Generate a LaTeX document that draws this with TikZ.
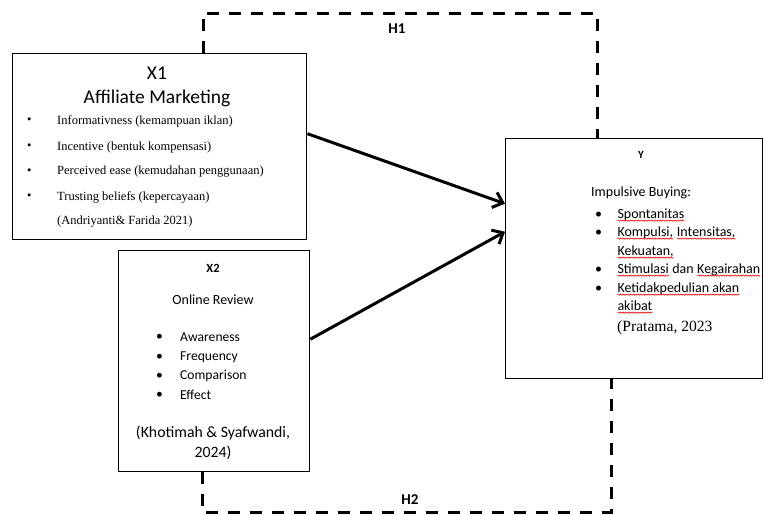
\documentclass[tikz,border=0pt]{standalone}
\usepackage{fontspec}
\setmainfont{Liberation Serif}
\newfontfamily\calib{Carlito}
\usepackage{xcolor}
\usetikzlibrary{positioning}
\usetikzlibrary{arrows.meta}
\usetikzlibrary{decorations.pathmorphing}

% red spell-check squiggle under a word
\newcommand{\spellerr}[1]{\tikz[baseline=(w.base)]{\node[inner sep=0pt, outer sep=0pt] (w) {#1};
    \draw[red, line width=0.6pt, decorate, decoration={snake, amplitude=0.6pt, segment length=2.5pt}] ([yshift=-2.5pt]w.base west) -- ([yshift=-2.5pt]w.base east);}}

\tikzset{
    varbox/.style={draw=black, line width=1.4pt, rectangle, anchor=north west, inner sep=0pt},
    itemtext/.style={anchor=west, inner sep=0pt},
    hypline/.style={line width=3pt, dash pattern=on 12pt off 10pt},
    effect/.style={line width=3pt, -{Straight Barb[length=9pt, width=16pt, line width=3pt]}}
}

\begin{document}
\begin{tikzpicture}[x=1pt, y=-1pt]
    \useasboundingbox (0,0) rectangle (765,514);

    % boxes
    \node[varbox, minimum width=294pt, minimum height=186pt] (x1) at (12,53) {};
    \node[varbox, minimum width=191pt, minimum height=221pt] (x2) at (118,250) {};
    \node[varbox, minimum width=257pt, minimum height=240pt] (yb) at (505,138) {};

    % X1
    \node[font=\calib\fontsize{19.5}{22}\selectfont] (x1t) at (157,73) {X1};
    \node[font=\calib\fontsize{19.5}{22}\selectfont] (x1n) at (157,98) {Affiliate Marketing};
    \foreach \yy/\txt in {121/{Informativness (kemampuan iklan)}, 147/{Incentive (bentuk kompensasi)}, 172/{Perceived ease (kemudahan penggunaan)}, 197/{Trusting beliefs (kepercayaan)}}{
        \node[itemtext, font=\fontsize{12.5}{15}\selectfont] at (27,\yy) {\textbullet};
        \node[itemtext, font=\fontsize{12.5}{15}\selectfont] at (57,\yy) {\txt};
    }
    \node[itemtext, font=\fontsize{12.5}{15}\selectfont] (x1c) at (57,222) {(Andriyanti\& Farida 2021)};

    % X2
    \node[font=\calib\bfseries\fontsize{12.5}{14}\selectfont] (x2t) at (213,268) {X2};
    \node[font=\calib\fontsize{14}{16}\selectfont] (x2n) at (213,300) {Online Review};
    \foreach \yy/\txt in {337/Awareness, 357/Frequency, 376/Comparison, 395/Effect}{
        \node[itemtext, font=\calib\fontsize{13.6}{16}\selectfont] at (156,\yy) {•};
        \node[itemtext, font=\calib\fontsize{13.6}{16}\selectfont] at (180,\yy) {\txt};
    }
    \node[align=center, font=\calib\fontsize{15.8}{20}\selectfont] (x2c) at (213,443) {(Khotimah \& Syafwandi,\\2024)};

    % Y
    \node[font=\calib\bfseries\fontsize{11}{13}\selectfont] (yt) at (641,155) {Y};
    \node[itemtext, font=\calib\fontsize{14}{16}\selectfont] (yn) at (591,193) {Impulsive Buying:};
    \foreach \yy in {215, 233, 270, 289}{
        \node[itemtext, font=\calib\fontsize{14}{16}\selectfont] at (595,\yy) {•};
    }
    \node[itemtext, font=\calib\fontsize{14}{16}\selectfont] at (617,215) {\spellerr{Spontanitas}};
    \node[itemtext, font=\calib\fontsize{14}{16}\selectfont] at (617,233) {\spellerr{Kompulsi,} \spellerr{Intensitas,}};
    \node[itemtext, font=\calib\fontsize{14}{16}\selectfont] at (617,252) {\spellerr{Kekuatan,}};
    \node[itemtext, font=\calib\fontsize{14}{16}\selectfont] at (617,270) {\spellerr{Stimulasi} dan \spellerr{Kegairahan}};
    \node[itemtext, font=\calib\fontsize{14}{16}\selectfont] at (617,289) {\spellerr{Ketidakpedulian akan}};
    \node[itemtext, font=\calib\fontsize{14}{16}\selectfont] at (617,307) {\spellerr{akibat}};
    \node[itemtext, font=\fontsize{15.6}{18}\selectfont] (yc) at (617,328) {(Pratama, 2023};

    % effects
    \draw[effect] ([yshift=13pt]x1.east) -- ([yshift=55pt]yb.west);
    \draw[effect] ([yshift=22pt]x2.east) -- ([yshift=27pt]yb.west);

    % hypotheses
    \coordinate (h1a) at (203,13);
    \coordinate (h1b) at (597,13);
    \draw[hypline] (x1.north -| h1a) -- (h1a) -- (h1b) -- (yb.north -| h1b);
    \node[font=\calib\bfseries\fontsize{15}{17}\selectfont] (h1) at (397,29) {H1};

    \coordinate (h2a) at (202,512);
    \coordinate (h2b) at (611,512);
    \draw[hypline] (x2.south -| h2a) -- (h2a) -- (h2b) -- (yb.south -| h2b);
    \node[font=\calib\bfseries\fontsize{15}{17}\selectfont] (h2) at (410,500) {H2};
\end{tikzpicture}
\end{document}
